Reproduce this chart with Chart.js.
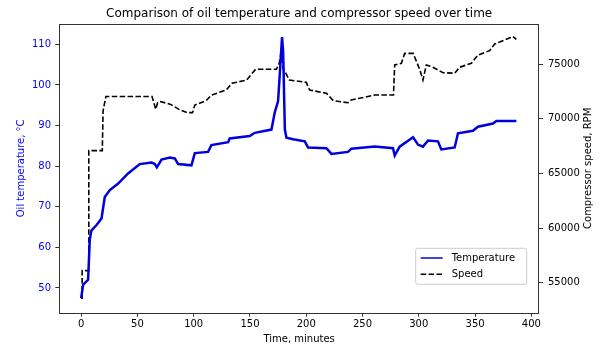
<!DOCTYPE html>
<html>
<head>
<meta charset="utf-8">
<script src="https://cdn.jsdelivr.net/npm/chart.js@4/dist/chart.umd.min.js"></script>
<style>
  html, body { margin: 0; padding: 0; background: #fff; }
  #wrap { width: 608px; height: 347px; }
</style>
</head>
<body>
<div id="wrap"><canvas id="c" width="608" height="347"></canvas></div>
<script>
const chartTitle = 'Comparison of oil temperature and compressor speed over time';
const xAxisTitle = 'Time, minutes';
const tempAxisTitle = 'Oil temperature, °C';
const speedAxisTitle = 'Compressor speed, RPM';
const seriesNames = ['Temperature', 'Speed'];

const xTickValues = [0, 50, 100, 150, 200, 250, 300, 350, 400];
const tempTickValues = [50, 60, 70, 80, 90, 100, 110];
const speedTickValues = [55000, 60000, 65000, 70000, 75000];

const tempTimes = [0, 1.8, 6.2, 7.7, 9.2, 13.7, 18.1, 21, 25.5, 32.9, 41.7, 52.1, 62.5, 65.5, 67.3, 71.4, 78.8, 83.2, 86.2, 98, 101, 112.8, 115.8, 130.6, 132, 149.8, 154.3, 169.1, 172, 175, 177, 178.5, 179.5, 181, 182.4, 188.3, 198.7, 201.6, 217.9, 222.4, 237.1, 240.1, 260.8, 277.1, 278.6, 283, 294.9, 299.3, 303.7, 308.2, 317, 320, 331.9, 334.8, 348.1, 352.6, 365.9, 368.9, 386.7];
const tempValues = [47.5, 50.8, 52.0, 62.0, 64.2, 65.5, 67.1, 72.4, 74.1, 75.7, 78.2, 80.5, 80.9, 80.5, 79.7, 81.6, 82.1, 81.9, 80.5, 80.2, 83.2, 83.5, 85.2, 85.9, 86.8, 87.4, 88.2, 89.0, 93.2, 96.0, 105.0, 111.8, 108.0, 89.0, 87.0, 86.6, 86.1, 84.6, 84.4, 83.0, 83.5, 84.3, 84.8, 84.4, 82.6, 84.8, 87.1, 85.3, 84.8, 86.3, 86.1, 84.1, 84.6, 88.1, 88.7, 89.7, 90.5, 91.1, 91.1];

const speedTimes = [0, 0.9, 0.9, 6.8, 6.8, 18.8, 19.5, 22, 63, 66.3, 68, 70, 79, 88, 94, 99, 101, 111, 116, 129, 134, 147, 155, 173.5, 176, 177.5, 179.5, 185, 200, 203, 218, 224, 237, 240, 261, 277.5, 278.6, 284.5, 287.5, 295, 298, 301, 303.7, 306.7, 312.6, 321.5, 332, 336.3, 346.7, 352.6, 363, 367.4, 376.3, 383.7, 386.7];
const speedValues = [53570, 53570, 56100, 56100, 67090, 67090, 70750, 72050, 72050, 70880, 71500, 71600, 71350, 70815, 70570, 70570, 71270, 71670, 72190, 72650, 73260, 73560, 74540, 74540, 75100, 76000, 74630, 73560, 73350, 72650, 72340, 71670, 71480, 71730, 72190, 72190, 74940, 75090, 76000, 76000, 75240, 74480, 73560, 74940, 74730, 74230, 74180, 74730, 75090, 75850, 76250, 76860, 77230, 77530, 77290];

const FONT = 'DejaVu Sans';

const tempPoints = tempTimes.map((t, i) => ({ x: t, y: tempValues[i] }));
const speedPoints = speedTimes.map((t, i) => ({ x: t, y: speedValues[i] }));

const framePlugin = {
  id: 'frame',
  afterDraw(chart) {
    const { ctx, chartArea: a } = chart;
    ctx.save();
    ctx.strokeStyle = '#333';
    ctx.lineWidth = 1;
    ctx.strokeRect(Math.round(a.left) + 0.5, Math.round(a.top) + 0.5, Math.round(a.right - a.left) - 1, Math.round(a.bottom - a.top));

    // right axis title, reading bottom-to-top like the reference
    ctx.save();
    ctx.translate(a.right + 49.3, (a.top + a.bottom) / 2);
    ctx.rotate(-Math.PI / 2);
    ctx.font = '10px "' + FONT + '"';
    ctx.fillStyle = '#000';
    ctx.textAlign = 'center';
    ctx.textBaseline = 'middle';
    ctx.fillText(speedAxisTitle, 0, 0);
    ctx.restore();

    // legend
    const w = 111, h = 36;
    const x0 = a.right - 12.3 - w, y0 = a.bottom - 28.4 - h;
    ctx.beginPath();
    const r = 2;
    ctx.moveTo(x0 + r, y0);
    ctx.arcTo(x0 + w, y0, x0 + w, y0 + h, r);
    ctx.arcTo(x0 + w, y0 + h, x0, y0 + h, r);
    ctx.arcTo(x0, y0 + h, x0, y0, r);
    ctx.arcTo(x0, y0, x0 + w, y0, r);
    ctx.closePath();
    ctx.fillStyle = 'rgba(255,255,255,0.8)';
    ctx.fill();
    ctx.strokeStyle = '#cccccc';
    ctx.lineWidth = 1;
    ctx.stroke();
    ctx.font = '10px "' + FONT + '"';
    ctx.textBaseline = 'middle';
    ctx.textAlign = 'left';
    chart.data.datasets.forEach((ds, i) => {
      const y = y0 + 9.7 + i * 16.3;
      ctx.beginPath();
      ctx.setLineDash(ds.borderDash || []);
      ctx.strokeStyle = ds.borderColor;
      ctx.lineWidth = 1.5;
      ctx.moveTo(x0 + 5, y);
      ctx.lineTo(x0 + 27, y);
      ctx.stroke();
      ctx.setLineDash([]);
      ctx.fillStyle = '#000';
      ctx.fillText(ds.label, x0 + 36, y);
    });
    ctx.restore();
  }
};

const setTicks = (vals) => (scale) => { scale.ticks = vals.map(v => ({ value: v })); };

new Chart(document.getElementById('c'), {
  type: 'line',
  data: {
    datasets: [
      {
        label: seriesNames[0],
        data: tempPoints,
        yAxisID: 'y',
        borderColor: '#0000dd',
        borderWidth: 2.5,
        pointRadius: 0,
        tension: 0,
        fill: false
      },
      {
        label: seriesNames[1],
        data: speedPoints,
        yAxisID: 'y1',
        borderColor: '#000000',
        borderWidth: 1.6,
        borderDash: [5.5, 2.4],
        pointRadius: 0,
        tension: 0,
        fill: false
      }
    ]
  },
  options: {
    responsive: false,
    animation: false,
    events: [],
    layout: { padding: 0 },
    plugins: {
      legend: { display: false },
      tooltip: { enabled: false },
      title: {
        display: true,
        text: chartTitle,
        fullSize: false,
        color: '#000',
        font: { family: FONT, size: 12, weight: 'normal', lineHeight: 1.2 },
        padding: { top: 6.5, bottom: 3.1 }
      }
    },
    scales: {
      x: {
        type: 'linear',
        position: 'bottom',
        min: -19.4,
        max: 406.8,
        afterBuildTicks: setTicks(xTickValues),
        afterFit: (s) => { s.height = 34.3; },
        grid: { display: true, drawOnChartArea: false, drawTicks: true, tickLength: 4, tickColor: '#333', lineWidth: 1 },
        border: { display: false },
        ticks: { color: '#000', font: { family: FONT, size: 10 }, padding: 1.8, maxRotation: 0, autoSkip: false },
        title: { display: true, text: xAxisTitle, color: '#000', font: { family: FONT, size: 10, lineHeight: 1.2 }, padding: { top: 0, bottom: 1.7 } }
      },
      y: {
        type: 'linear',
        position: 'left',
        min: 43.9,
        max: 115,
        afterBuildTicks: setTicks(tempTickValues),
        afterFit: (s) => { s.width = 59.3; },
        grid: { display: true, drawOnChartArea: false, drawTicks: true, tickLength: 4, tickColor: '#333', lineWidth: 1 },
        border: { display: false },
        ticks: { color: '#0000ff', font: { family: FONT, size: 10 }, padding: 4.3, autoSkip: false },
        title: { display: true, text: tempAxisTitle, color: '#0000ff', font: { family: FONT, size: 10, lineHeight: 1.2 }, padding: { top: 15.7, bottom: 0 } }
      },
      y1: {
        type: 'linear',
        position: 'right',
        min: 52250,
        max: 78690,
        afterBuildTicks: setTicks(speedTickValues),
        afterFit: (s) => { s.width = 69; },
        grid: { display: true, drawOnChartArea: false, drawTicks: true, tickLength: 4, tickColor: '#333', lineWidth: 1 },
        border: { display: false },
        ticks: { color: '#000', font: { family: FONT, size: 10 }, padding: 5, autoSkip: false, callback: (v) => String(v) },
        title: { display: false, text: speedAxisTitle }
      }
    }
  },
  plugins: [framePlugin]
});
</script>
</body>
</html>
